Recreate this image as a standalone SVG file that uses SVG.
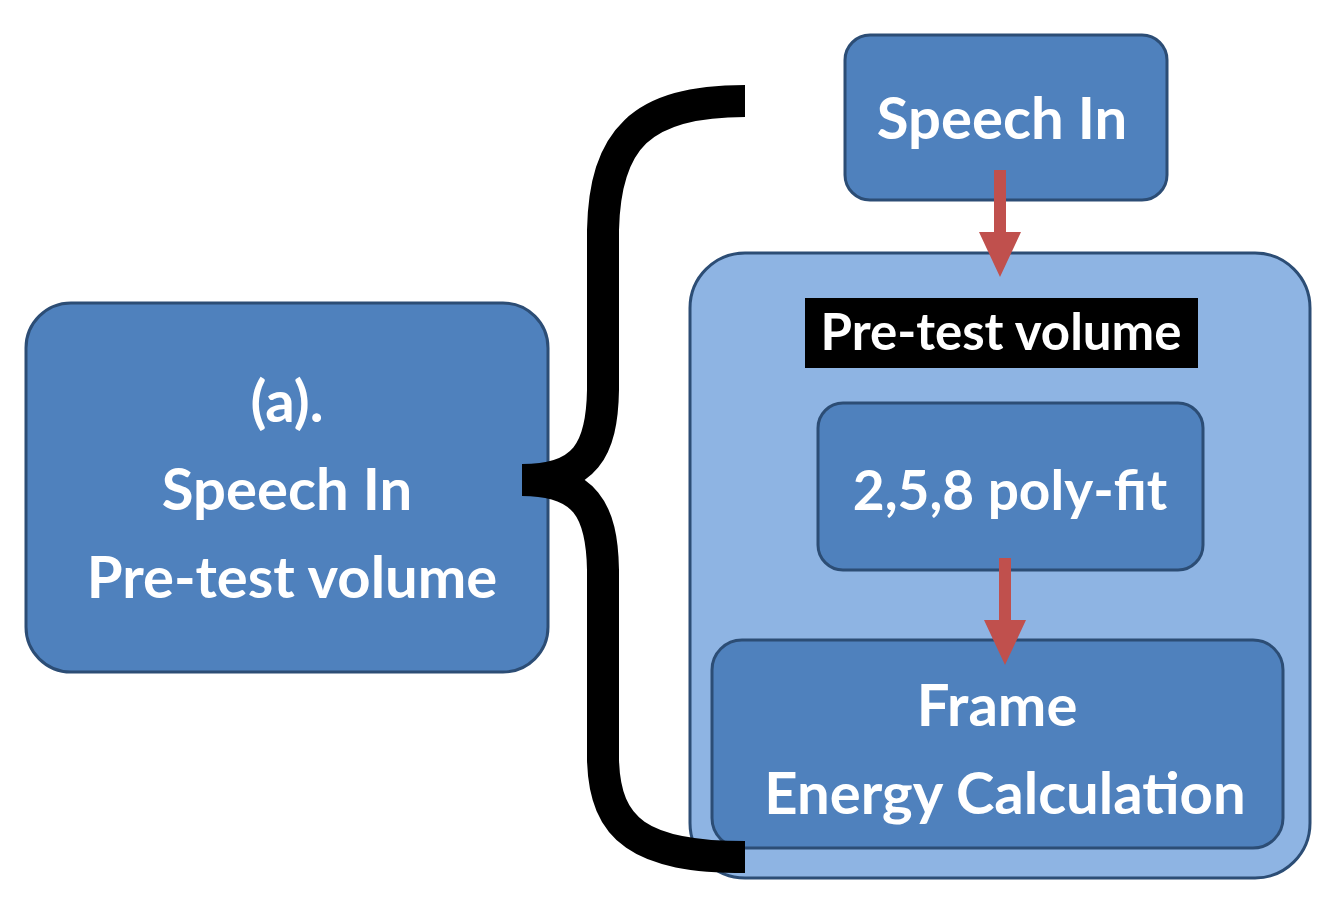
<svg xmlns="http://www.w3.org/2000/svg" width="1342" height="908" viewBox="0 0 1342 908">
<style>
.box{fill:#4f81bd;stroke:#2c4d75;stroke-width:3}
.t{font-family:Lato,"Open Sans",sans-serif;font-weight:bold;fill:#fff;text-anchor:middle}
.arr{fill:#c0504d}
</style>
<rect width="1342" height="908" fill="#fff"/>
<g id="left"><rect class="box" x="26" y="303" width="522" height="369" rx="45"/>
<text class="t" font-size="58" x="287" y="422">(a).</text>
<text class="t" font-size="58" x="287" y="510">Speech  In</text>
<text class="t" font-size="58" x="292" y="598">Pre-test volume</text></g>
<g id="speechin"><rect class="box" x="845" y="35" width="322" height="165" rx="25"/>
<text class="t" font-size="58" x="1002" y="139">Speech  In</text></g>
<g id="container"><rect x="690" y="253" width="620" height="625" rx="55" fill="#8eb4e3" stroke="#2c4d75" stroke-width="3"/></g>
<g id="pretest"><rect x="805" y="298" width="393" height="70" fill="#000"/>
<text class="t" font-size="51" x="1001" y="350">Pre-test volume</text></g>
<g id="poly"><rect class="box" x="818" y="403" width="385" height="167" rx="25"/>
<text class="t" font-size="55" x="1010" y="510">2,5,8 poly-fit</text></g>
<g id="frame"><rect class="box" x="712" y="640" width="571" height="208" rx="30"/>
<text class="t" font-size="58" x="997" y="726">Frame</text>
<text class="t" font-size="58" x="1005" y="814">Energy Calculation</text></g>
<g id="brace"><path d="M745,101 C640,101 605,140 603,230 L603,390 C602,450 585,480 522,480 C585,480 602,510 603,570 L603,760 C605,830 640,857 745,857" fill="none" stroke="#000" stroke-width="32"/></g>
<g id="connectors">
<path class="arr" d="M994,170 H1006 V232 H1021 L1000,277 L979,232 H994 Z"/>
<path class="arr" d="M999,558 H1011 V620 H1026 L1005,665 L984,620 H999 Z"/>
</g>
</svg>
